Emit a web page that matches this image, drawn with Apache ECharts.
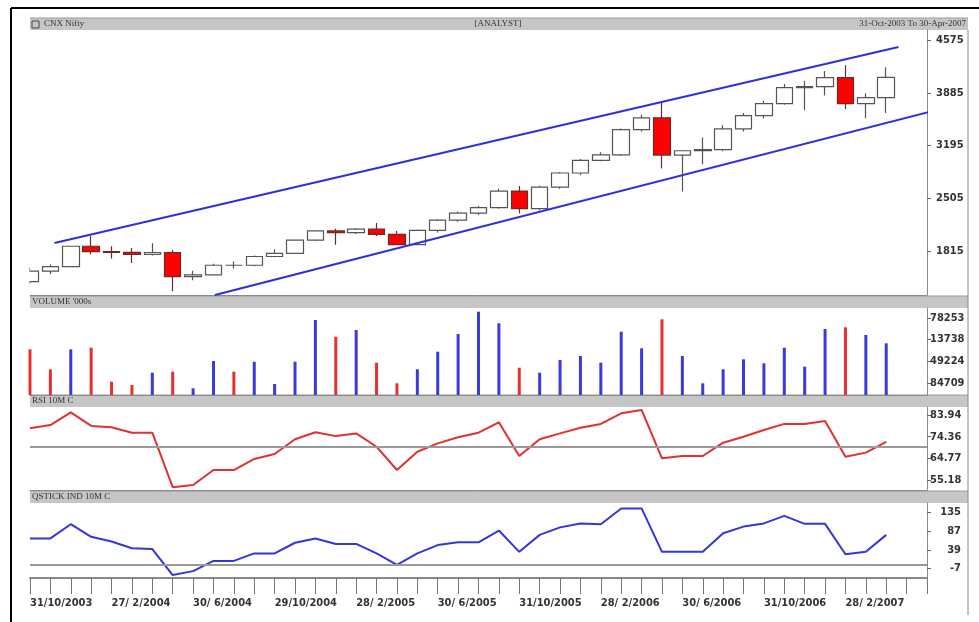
<!DOCTYPE html>
<html><head><meta charset="utf-8">
<script src="https://cdn.jsdelivr.net/npm/echarts@6/dist/echarts.min.js"></script>
<style>html,body{margin:0;padding:0;background:#fff}#c{width:979px;height:622px}</style>
</head><body><div id="c"></div>
<script>
// ---- data ----
const months = ['Oct03','Nov03','Dec03','Jan04','Feb04','Mar04','Apr04','May04','Jun04','Jul04','Aug04','Sep04',
  'Oct04','Nov04','Dec04','Jan05','Feb05','Mar05','Apr05','May05','Jun05','Jul05','Aug05','Sep05',
  'Oct05','Nov05','Dec05','Jan06','Feb06','Mar06','Apr06','May06','Jun06','Jul06','Aug06','Sep06',
  'Oct06','Nov06','Dec06','Jan07','Feb07','Mar07','Apr07','pad1','pad2'];
const tickLabels = ['31/10/2003','27/ 2/2004','30/ 6/2004','29/10/2004','28/ 2/2005','30/ 6/2005',
  '31/10/2005','28/ 2/2006','30/ 6/2006','31/10/2006','28/ 2/2007'];
// [open, close, low, high]
const ohlc = [
 [1417,1556,1390,1600],[1556,1615,1519,1640],[1615,1880,1605,1885],[1880,1810,1775,2014],
 [1810,1800,1720,1880],[1800,1772,1660,1857],[1772,1796,1760,1920],[1796,1484,1292,1830],
 [1484,1506,1437,1560],[1506,1632,1500,1650],[1632,1632,1590,1680],[1632,1746,1620,1760],
 [1746,1787,1735,1840],[1787,1959,1780,1965],[1959,2080,1950,2090],[2080,2058,1900,2110],
 [2058,2103,2040,2120],[2103,2036,2015,2183],[2036,1902,1897,2080],[1902,2088,1896,2100],
 [2088,2221,2060,2235],[2221,2312,2200,2335],[2312,2385,2290,2410],[2385,2601,2370,2630],
 [2601,2371,2307,2669],[2371,2652,2350,2670],[2652,2837,2630,2850],[2837,3001,2810,3020],
 [3001,3075,2990,3110],[3075,3403,3060,3420],[3403,3558,3380,3600],[3558,3071,2896,3774],
 [3071,3128,2595,3130],[3128,3143,2950,3300],[3143,3414,3120,3460],[3414,3588,3380,3620],
 [3588,3744,3550,3780],[3744,3954,3730,4000],[3954,3966,3657,4040],[3966,4083,3850,4170],
 [4083,3745,3674,4245],[3745,3822,3554,3880],[3822,4088,3620,4220]
];
const volume = [184900,125440,184900,189660,88574,78763,115330,118300,68950,150115,118300,148030,
  81736,148030,272000,222360,242280,145060,83817,125440,177760,230390,296680,262200,
  130200,115330,153090,164980,145060,237220,187870,274090,164980,83817,125440,155170,
  143280,189660,133170,245250,250300,227400,202740];
// 1 = red (down) bar, 0 = blue
const volumeDown = [1,1,0,1,1,1,0,1,0,0,1,0, 0,0,0,1,0,1,1,0,0,0,0,0, 1,0,0,0,0,0,0,1,0,0,0,0, 0,0,0,0,1,0,0];
const rsi = [78.1,79.5,85.1,79.1,78.5,76.1,76.1,52.0,53.0,59.6,59.6,64.5,66.7,73.2,76.3,74.6,75.8,69.9,
  59.6,67.7,71.4,74.1,76.1,80.7,65.8,73.2,75.8,78.3,80.0,84.7,86.2,64.8,65.8,65.8,71.7,74.3,77.3,
  80.0,80.0,81.3,65.5,67.3,72.1];
const qstick = [68,68,104,72,60,43,41,-25,-15,11,11,30,30,57,68,54,54,30,1,30,51,58,58,88,34,77,96,
  106,104,144,144,34,34,34,81,98,106,125,105,105,28,34,77];
const upperChannel = [[1.2,1922],[42.6,4484]];
const lowerChannel = [[9.07,1242],[44.1,3634]];
const priceTicks = [1815,2505,3195,3885,4575];
const volumeTicks = [84709,149224,213738,278253];
const rsiTicks = [55.18,64.77,74.36,83.94];
const qstickTicks = [-7,39,87,135];

// ---- chart ----
const chart = echarts.init(document.getElementById('c'), null, {renderer:'canvas'});
const L = 30, R = 52;
const grids = [
  {left:L, right:R, top:30, height:265},
  {left:L, right:R, top:308, height:87},
  {left:L, right:R, top:407, height:83},
  {left:L, right:R, top:503, height:75}
];
const labelFont = {fontFamily:'DejaVu Sans Condensed', fontSize:11, fontWeight:'bold', color:'#333'};
function yAx(gi, min, max, ticks, fmt, margin, align){
  return {type:'value', gridIndex:gi, position:'right', min:min, max:max,
    axisLine:{show:true, onZero:false, lineStyle:{color:'#8a8a8a', width:1}},
    axisTick:{show:true, customValues:ticks, length:4, lineStyle:{color:'#666'}},
    axisLabel:Object.assign({customValues:ticks, margin:margin, formatter:fmt, align:align||'left'}, labelFont),
    splitLine:{show:false}};
}
function xAx(gi, last){
  return {type:'category', gridIndex:gi, data:months, boundaryGap:false,
    axisLine:{show:true, onZero:false, lineStyle:{color:'#8a8a8a', width: last?2:1}},
    axisTick:{show:!!last, interval:0, length:16, lineStyle:{color:'#777'}},
    axisLabel:{show:!!last, interval:3, align:'left', margin:20, fontFamily:'DejaVu Sans Condensed', fontSize:11, fontWeight:'bold', color:'#333',
      formatter:(v,i)=> tickLabels[i/4] || ''},
    splitLine:{show:false}};
}
const headers = [
  {y:18, texts:[['CNX Nifty',44,'left'],['[ANALYST]',498,'center'],['31-Oct-2003 To 30-Apr-2007',966,'right']]},
  {y:296, texts:[["VOLUME '000s",32,'left']]},
  {y:395, texts:[['RSI 10M C',32,'left']]},
  {y:491, texts:[['QSTICK IND 10M C',32,'left']]}
];
const graphic = [];
headers.forEach(h=>{
  graphic.push({type:'rect', shape:{x:30,y:h.y,width:938,height:12}, style:{fill:'#c6c6c6'}, z:-1});
  graphic.push({type:'line', shape:{x1:30,y1:h.y,x2:968,y2:h.y}, style:{stroke:'#9a9a9a', lineWidth:1}, z:-1});
  h.texts.forEach(t=>graphic.push({type:'text', x:t[1], y:h.y+6, style:{text:t[0], fill:'#333', font:'9px "Liberation Serif"', align:t[2], verticalAlign:'middle'}}));
});
// mask for the part of the first candle that falls left of the plot
graphic.push({type:'rect', shape:{x:12,y:30,width:17.5,height:266}, style:{fill:'#fff'}, z:100});
graphic.push({type:'rect', shape:{x:32,y:21,width:7,height:7}, style:{fill:'none', stroke:'#444', lineWidth:1}});
graphic.push({type:'line', shape:{x1:11,y1:8,x2:979,y2:8}, style:{stroke:'#000', lineWidth:2}, z:101});
graphic.push({type:'line', shape:{x1:11,y1:8,x2:11,y2:622}, style:{stroke:'#000', lineWidth:2}, z:101});
graphic.push({type:'line', shape:{x1:968,y1:30,x2:968,y2:615}, style:{stroke:'#8a8a8a', lineWidth:1}});

const option = {
  animation:false,
  backgroundColor:'#fff',
  graphic: graphic,
  grid: grids,
  xAxis: [xAx(0), xAx(1), xAx(2), xAx(3,true),
    {type:'value', gridIndex:0, min:0, max:44, show:false}],
  yAxis: [
    yAx(0, 1243, 4706, priceTicks, v=>String(v), 9),
    yAx(1, 49033, 307700, volumeTicks, v=>String(Math.round(v)).slice(-5), 3),
    yAx(2, 50.76, 87.48, rsiTicks, v=>v.toFixed(2), 3),
    yAx(3, -32.4, 157.8, qstickTicks, v=>String(v), 34, 'right')
  ],
  series: [
    {type:'candlestick', xAxisIndex:0, yAxisIndex:0, data:ohlc, barWidth:17, clip:true,
      itemStyle:{color:'#ffffff', color0:'#ff0000', borderColor:'#555555', borderColor0:'#6a2a2a', borderWidth:1.2}},
    {type:'line', xAxisIndex:4, yAxisIndex:0, data:upperChannel, symbol:'none', clip:true,
      lineStyle:{color:'#2f2fe0', width:2}},
    {type:'line', xAxisIndex:4, yAxisIndex:0, data:lowerChannel, symbol:'none', clip:true,
      lineStyle:{color:'#2f2fe0', width:2}},
    {type:'bar', xAxisIndex:1, yAxisIndex:1, barWidth:3,
      data: volume.map((v,i)=>({value:v, itemStyle:{color: volumeDown[i] ? '#e83030' : '#3a3ae0'}}))},
    {type:'line', xAxisIndex:2, yAxisIndex:2, data:rsi, symbol:'none', lineStyle:{color:'#e03030', width:2},
      markLine:{silent:true, symbol:'none', label:{show:false}, lineStyle:{color:'#9a9a9a', width:2, type:'solid'}, data:[{yAxis:70}]}},
    {type:'line', xAxisIndex:3, yAxisIndex:3, data:qstick, symbol:'none', lineStyle:{color:'#3535e0', width:2},
      markLine:{silent:true, symbol:'none', label:{show:false}, lineStyle:{color:'#9a9a9a', width:2, type:'solid'}, data:[{yAxis:0}]}}
  ]
};
chart.setOption(option);
</script></body></html>
